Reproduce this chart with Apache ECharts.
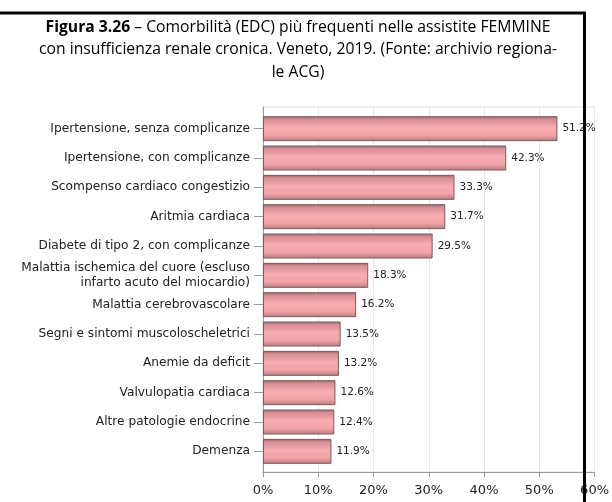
<!doctype html>
<html lang="it">
<head>
    <meta charset="utf-8">
    <script src="https://cdn.jsdelivr.net/npm/echarts@6/dist/echarts.min.js"></script>
    <style>
        html, body { margin: 0; padding: 0; background: #fff; }
    </style>
</head>
<body>
<div id="main" style="width: 612px; height: 502px;"></div>

<script type="text/javascript">
    // categorie (dall'alto verso il basso) e percentuali
    var categorie = [
        'Ipertensione, senza complicanze',
        'Ipertensione, con complicanze',
        'Scompenso cardiaco congestizio',
        'Aritmia cardiaca',
        'Diabete di tipo 2, con complicanze',
        'Malattia ischemica del cuore (escluso\ninfarto acuto del miocardio)',
        'Malattia cerebrovascolare',
        'Segni e sintomi muscoloscheletrici',
        'Anemie da deficit',
        'Valvulopatia cardiaca',
        'Altre patologie endocrine',
        'Demenza'
    ];
    var valori = [51.2, 42.3, 33.3, 31.7, 29.5, 18.3, 16.2, 13.5, 13.2, 12.6, 12.4, 11.9];
    var tickX = [0, 10, 20, 30, 40, 50, 60];

    var myChart = echarts.init(document.getElementById('main'));

    var coloreBarra = new echarts.graphic.LinearGradient(0, 0, 0, 1, [
        {offset: 0, color: '#8f666a'},
        {offset: 0.12, color: '#d48d92'},
        {offset: 0.45, color: '#f8adb1'},
        {offset: 0.75, color: '#f2a4a8'},
        {offset: 1, color: '#b77a7e'}
    ]);

    myChart.setOption({
        animation: false,
        title: {
            text: '{b|Figura 3.26} – Comorbilità (EDC) più frequenti nelle assistite FEMMINE\ncon insufficienza renale cronica. Veneto, 2019. (Fonte: archivio regiona-\nle ACG)',
            left: 293,
            top: 11,
            textAlign: 'center',
            textStyle: {
                fontFamily: 'Open Sans',
                fontSize: 15.7,
                fontWeight: 'normal',
                color: '#000',
                lineHeight: 22.5,
                rich: {
                    b: {fontFamily: 'Open Sans', fontSize: 15.7, fontWeight: 'bold', color: '#000', lineHeight: 22.5}
                }
            }
        },
        graphic: [
            {type: 'line', shape: {x1: 0, y1: 13, x2: 586, y2: 13}, style: {stroke: '#000', lineWidth: 3}, z: 100},
            {type: 'line', shape: {x1: 584.5, y1: 12, x2: 584.5, y2: 502}, style: {stroke: '#000', lineWidth: 3}, z: 100}
        ],
        grid: [
            // cornice dell'area di disegno
            {left: 263, right: 4, top: 107, bottom: 30, show: true, borderColor: '#dcdcdc', borderWidth: 1},
            // area delle barre
            {left: 263, right: 4, top: 114, bottom: 36}
        ],
        xAxis: [
            {
                gridIndex: 0, type: 'value', min: 0, max: 60, interval: 10,
                axisLine: {show: true, lineStyle: {color: '#9a9a9a'}},
                axisTick: {show: true, length: 5, lineStyle: {color: '#9a9a9a'}},
                axisLabel: {
                    margin: 12, fontFamily: 'DejaVu Sans', fontSize: 13, color: '#222',
                    formatter: function (v) { return tickX.indexOf(v) >= 0 ? v + '%' : ''; }
                },
                splitLine: {show: true, lineStyle: {color: '#e6e6e6'}}
            },
            {
                gridIndex: 1, type: 'value', min: 0, max: 60, show: false
            }
        ],
        yAxis: [
            {
                gridIndex: 0, type: 'value', min: 0, max: 1,
                axisLine: {show: true, lineStyle: {color: '#9a9a9a'}},
                axisTick: {show: false}, axisLabel: {show: false}, splitLine: {show: false}
            },
            {
                gridIndex: 1, type: 'category', inverse: true, data: categorie,
                axisLine: {show: false},
                axisTick: {show: true, alignWithLabel: true, length: 9, lineStyle: {color: '#9a9a9a'}},
                axisLabel: {
                    margin: 13, fontFamily: 'DejaVu Sans', fontSize: 12.2, color: '#222',
                    lineHeight: 15
                }
            }
        ],
        series: [{
            type: 'bar',
            xAxisIndex: 1,
            yAxisIndex: 1,
            data: valori,
            barWidth: 25,
            itemStyle: {color: coloreBarra, borderColor: '#7d5a5e', borderWidth: 1},
            label: {
                show: true, position: 'right', distance: 5,
                fontFamily: 'DejaVu Sans', fontSize: 10.5, color: '#222',
                formatter: function (p) { return p.value.toFixed(1) + '%'; }
            }
        }]
    });
</script>
</body>
</html>
